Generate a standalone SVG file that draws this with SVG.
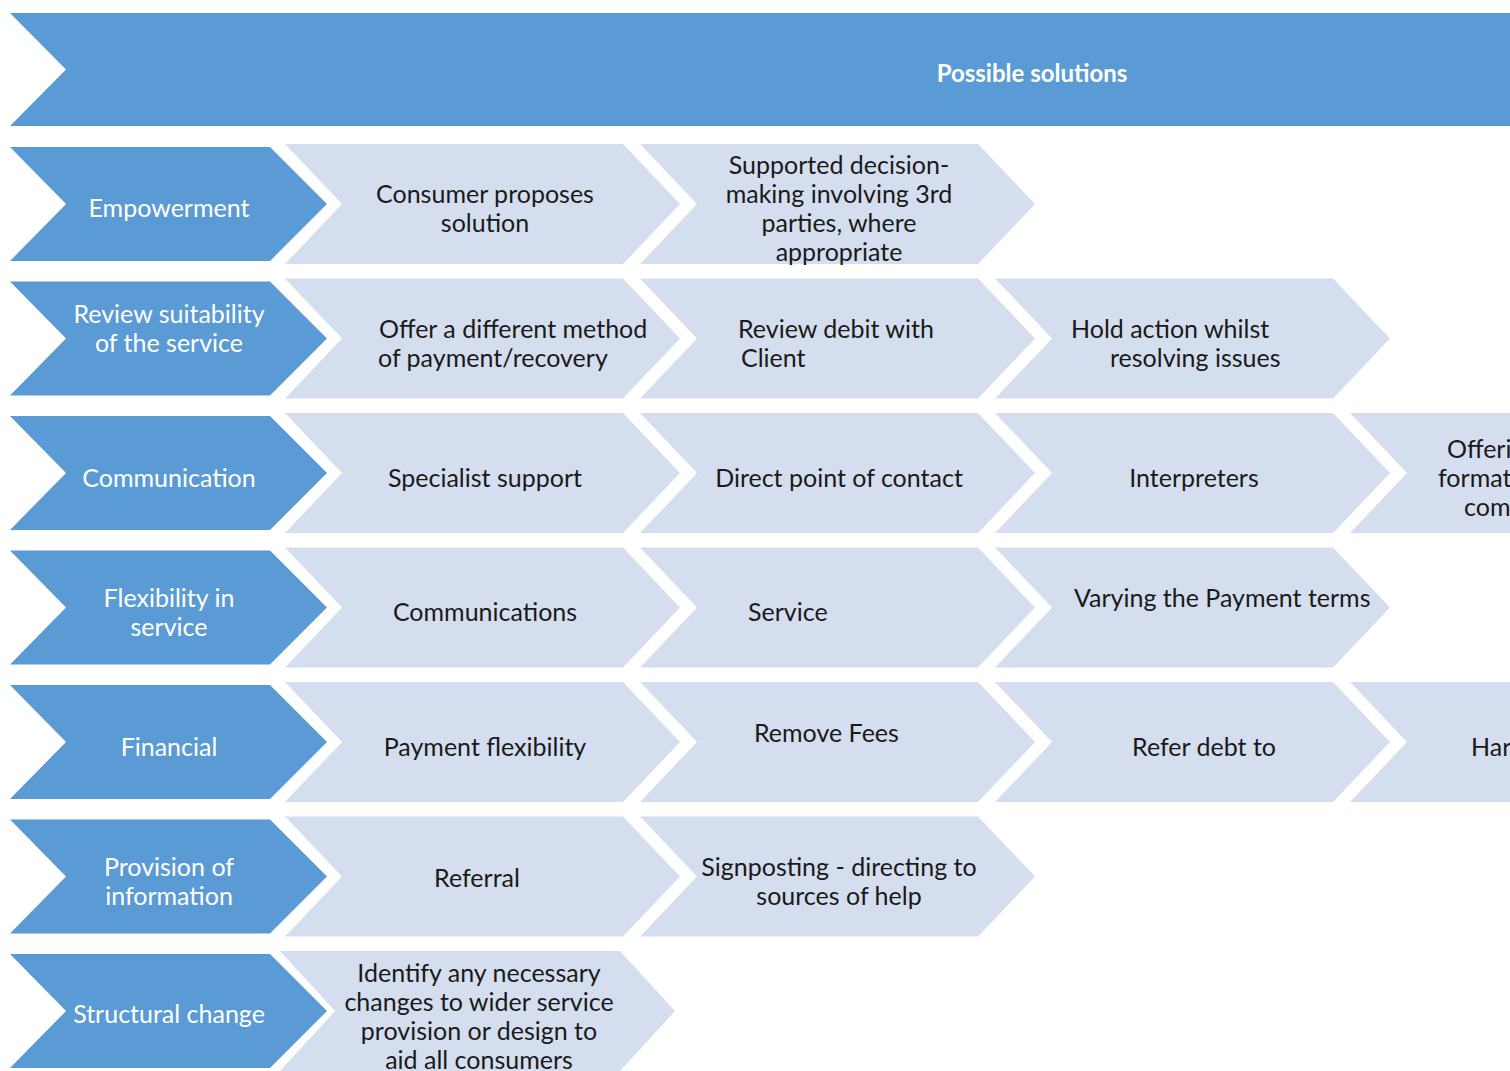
<svg xmlns="http://www.w3.org/2000/svg" width="1510" height="1071" viewBox="0 0 1510 1071">
  <defs>
    <style>
      .dark { fill: #5B9BD5; }
      .light { fill: #D5DEEE; }
      .wt { fill: #FFFFFF; font-family: Lato, "Liberation Sans", sans-serif; font-size: 25px; text-anchor: middle; }
      .bt { fill: #1A1A1A; font-family: Lato, "Liberation Sans", sans-serif; font-size: 25px; text-anchor: middle; }
      .st { text-anchor: start; }
      .head { font-weight: bold; font-size: 24px; }
    </style>
  </defs>
  <rect width="1510" height="1071" fill="#FFFFFF"/>

  <!-- header banner -->
  <g id="header">
    <path class="dark" d="M10,13 L1530,13 L1530,126 L10,126 L66,69.5 Z"/>
    <text class="wt head" x="1032" y="82">Possible solutions</text>
  </g>

  <!-- row 1: Empowerment -->
  <g id="empowerment">
    <path class="dark" d="M10,147 L270,147 L327,204 L270,261 L10,261 L66,204 Z"/>
    <text class="wt" x="169" y="217">Empowerment</text>
  </g>
  <g id="consumer-proposes">
    <path class="light" d="M285,144 L623,144 L680,204 L623,264 L285,264 L342,204 Z"/>
    <text class="bt" x="485" y="203">Consumer proposes</text>
    <text class="bt" x="485" y="232">solution</text>
  </g>
  <g id="supported-decision">
    <path class="light" d="M640,144 L978,144 L1035,204 L978,264 L640,264 L697,204 Z"/>
    <text class="bt" x="839" y="174">Supported decision-</text>
    <text class="bt" x="839" y="203">making involving 3rd</text>
    <text class="bt" x="839" y="232">parties, where</text>
    <text class="bt" x="839" y="261">appropriate</text>
  </g>

  <!-- row 2: Review suitability -->
  <g id="review-suitability">
    <path class="dark" d="M10,281.5 L270,281.5 L327,338.5 L270,395.5 L10,395.5 L66,338.5 Z"/>
    <text class="wt" x="169" y="323">Review suitability</text>
    <text class="wt" x="169" y="352">of the service</text>
  </g>
  <g id="different-method">
    <path class="light" d="M285,278.5 L623,278.5 L680,338.5 L623,398.5 L285,398.5 L342,338.5 Z"/>
    <text class="bt st" x="379" y="338">Offer a different method</text>
    <text class="bt st" x="378" y="367">of payment/recovery</text>
  </g>
  <g id="review-debit">
    <path class="light" d="M640,278.5 L978,278.5 L1035,338.5 L978,398.5 L640,398.5 L697,338.5 Z"/>
    <text class="bt st" x="738" y="338">Review debit with</text>
    <text class="bt st" x="741" y="367">Client</text>
  </g>
  <g id="hold-action">
    <path class="light" d="M995,278.5 L1333,278.5 L1390,338.5 L1333,398.5 L995,398.5 L1052,338.5 Z"/>
    <text class="bt st" x="1071" y="338">Hold action whilst</text>
    <text class="bt st" x="1110" y="367">resolving issues</text>
  </g>

  <!-- row 3: Communication -->
  <g id="communication">
    <path class="dark" d="M10,416 L270,416 L327,473 L270,530 L10,530 L66,473 Z"/>
    <text class="wt" x="169" y="487">Communication</text>
  </g>
  <g id="specialist-support">
    <path class="light" d="M285,413 L623,413 L680,473 L623,533 L285,533 L342,473 Z"/>
    <text class="bt" x="485" y="487">Specialist support</text>
  </g>
  <g id="direct-contact">
    <path class="light" d="M640,413 L978,413 L1035,473 L978,533 L640,533 L697,473 Z"/>
    <text class="bt" x="839" y="487">Direct point of contact</text>
  </g>
  <g id="interpreters">
    <path class="light" d="M995,413 L1333,413 L1390,473 L1333,533 L995,533 L1052,473 Z"/>
    <text class="bt" x="1194" y="487">Interpreters</text>
  </g>
  <g id="offering-formats">
    <path class="light" d="M1350,413 L1688,413 L1745,473 L1688,533 L1350,533 L1407,473 Z"/>
    <text class="bt st" x="1447" y="458">Offeri</text>
    <text class="bt st" x="1438" y="487">format</text>
    <text class="bt st" x="1464" y="516">com</text>
  </g>

  <!-- row 4: Flexibility in service -->
  <g id="flexibility">
    <path class="dark" d="M10,550.5 L270,550.5 L327,607.5 L270,664.5 L10,664.5 L66,607.5 Z"/>
    <text class="wt" x="169" y="607">Flexibility in</text>
    <text class="wt" x="169" y="636">service</text>
  </g>
  <g id="communications">
    <path class="light" d="M285,547.5 L623,547.5 L680,607.5 L623,667.5 L285,667.5 L342,607.5 Z"/>
    <text class="bt" x="485" y="621">Communications</text>
  </g>
  <g id="service">
    <path class="light" d="M640,547.5 L978,547.5 L1035,607.5 L978,667.5 L640,667.5 L697,607.5 Z"/>
    <text class="bt st" x="748" y="621">Service</text>
  </g>
  <g id="varying-terms">
    <path class="light" d="M995,547.5 L1333,547.5 L1390,607.5 L1333,667.5 L995,667.5 L1052,607.5 Z"/>
    <text class="bt st" x="1074" y="607">Varying the Payment terms</text>
  </g>

  <!-- row 5: Financial -->
  <g id="financial">
    <path class="dark" d="M10,685 L270,685 L327,742 L270,799 L10,799 L66,742 Z"/>
    <text class="wt" x="169" y="756">Financial</text>
  </g>
  <g id="payment-flexibility">
    <path class="light" d="M285,682 L623,682 L680,742 L623,802 L285,802 L342,742 Z"/>
    <text class="bt" x="485" y="756">Payment flexibility</text>
  </g>
  <g id="remove-fees">
    <path class="light" d="M640,682 L978,682 L1035,742 L978,802 L640,802 L697,742 Z"/>
    <text class="bt st" x="754" y="742">Remove Fees</text>
  </g>
  <g id="refer-debt">
    <path class="light" d="M995,682 L1333,682 L1390,742 L1333,802 L995,802 L1052,742 Z"/>
    <text class="bt" x="1204" y="756">Refer debt to</text>
  </g>
  <g id="hardship">
    <path class="light" d="M1350,682 L1688,682 L1745,742 L1688,802 L1350,802 L1407,742 Z"/>
    <text class="bt st" x="1471" y="756">Har</text>
  </g>

  <!-- row 6: Provision of information -->
  <g id="provision">
    <path class="dark" d="M10,819.5 L270,819.5 L327,876.5 L270,933.5 L10,933.5 L66,876.5 Z"/>
    <text class="wt" x="169" y="876">Provision of</text>
    <text class="wt" x="169" y="905">information</text>
  </g>
  <g id="referral">
    <path class="light" d="M285,816.5 L623,816.5 L680,876.5 L623,936.5 L285,936.5 L342,876.5 Z"/>
    <text class="bt" x="477" y="887">Referral</text>
  </g>
  <g id="signposting">
    <path class="light" d="M640,816.5 L978,816.5 L1035,876.5 L978,936.5 L640,936.5 L697,876.5 Z"/>
    <text class="bt" x="839" y="876">Signposting - directing to</text>
    <text class="bt" x="839" y="905">sources of help</text>
  </g>

  <!-- row 7: Structural change -->
  <g id="structural-change">
    <path class="dark" d="M10,954 L270,954 L327,1011 L270,1068 L10,1068 L66,1011 Z"/>
    <text class="wt" x="169" y="1023">Structural change</text>
  </g>
  <g id="identify-changes">
    <path class="light" d="M280,951 L620,951 L675,1011 L620,1071 L280,1071 L335,1011 Z"/>
    <text class="bt" x="479" y="982">Identify any necessary</text>
    <text class="bt" x="479" y="1011">changes to wider service</text>
    <text class="bt" x="479" y="1040">provision or design to</text>
    <text class="bt" x="479" y="1069">aid all consumers</text>
  </g>

  <!-- no connectors: the chevrons abut each other -->
  <g id="connectors"/>
</svg>
